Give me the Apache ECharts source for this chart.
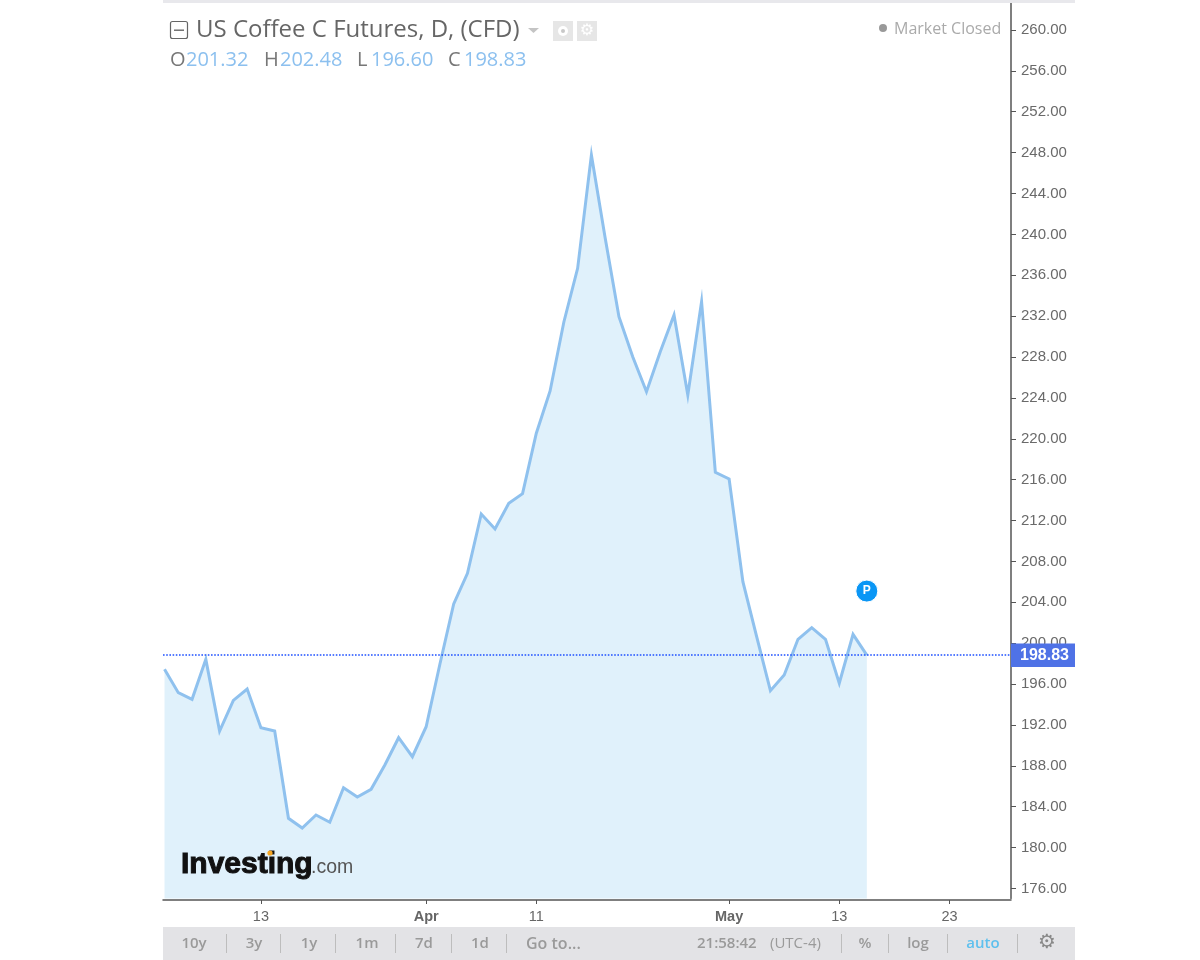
<!DOCTYPE html>
<html>
<head>
<meta charset="utf-8">
<style>html,body{margin:0;padding:0;background:#fff}#c{width:1200px;height:960px}</style>
<script src="https://cdn.jsdelivr.net/npm/echarts@6/dist/echarts.min.js"></script>
</head>
<body>
<div id="c"></div>
<script>
const closes = [197.45,195.16,194.51,198.42,191.41,194.41,195.52,191.73,191.41,182.87,
  181.92,183.19,182.48,185.86,184.95,185.70,188.08,190.75,188.89,191.83,
  197.96,203.84,206.84,212.64,211.17,213.69,214.63,220.54,224.68,231.43,
  236.68,247.77,239.65,231.95,228.03,224.61,228.52,232.11,224.29,233.42,
  216.72,216.07,206.02,200.64,195.35,196.89,200.38,201.52,200.38,196.08,
  200.87,198.83];
const priceTicks = [176,180,184,188,192,196,200,204,208,212,216,220,224,228,232,236,240,244,248,252,256,260];
const dateTickIndex = [7,19,27,41,49,57];
const dateTickLabels = ['13','Apr','11','May','13','23'];
const lastPrice = 198.83;
const markerPrice = 205.1;
const ohlc = [['O','201.32',170,186],['H','202.48',264,280],['L','196.60',357,371],['C','198.83',448,464]];
const rangeButtons = [['10y',194],['3y',254],['1y',309],['1m',367],['7d',424],['1d',480]];
const separators = [226,280,335,395,451,506,841,888,947,1017];

const seriesData = closes.map((v,i)=>[i,v]);
const UI = '"Open Sans","Noto Sans",sans-serif';
const AX = '"Liberation Sans",Arial,sans-serif';
const txt = (text,x,y,o={}) => ({type:'text',silent:true,z:o.z||20,x,y,style:{text,fill:o.fill||'#9a9a9a',
  font:`${o.weight||'normal'} ${o.size||15}px ${o.family||UI}`,textAlign:o.align||'left',textVerticalAlign:'middle',
  stroke:o.stroke||null,lineWidth:o.lw||0}});
const rect = (x,y,w,h,fill,o={}) => ({type:'rect',silent:true,z:o.z||10,shape:{x,y,width:w,height:h,r:o.r||0},
  style:{fill,stroke:o.stroke||null,lineWidth:o.lw||0}});

const graphics = [
  rect(163,0,912,3,'#e8e8ec'),
  rect(163,927,912,33,'#e3e3e6'),
  rect(170.5,21.5,17,17,'#fff',{stroke:'#666',lw:1.2,r:2,z:20}),
  rect(174,29.5,10,1.4,'#666',{z:21}),
  {type:'polygon',silent:true,z:20,shape:{points:[[528,28],[539,28],[533.5,33]]},style:{fill:'#c4c4c4'}},
  rect(553,21,20,20,'#e6e6e6',{z:20}),
  {type:'circle',silent:true,z:21,shape:{cx:563,cy:31,r:5},style:{fill:'#fff'}},
  {type:'circle',silent:true,z:22,shape:{cx:563,cy:31,r:2},style:{fill:'#c8c8c8'}},
  rect(577,21,20,20,'#e6e6e6',{z:20}),
  txt('\u2699',587,31,{size:16,family:'"DejaVu Sans"',fill:'#fff',align:'center',z:21}),
  ...ohlc.flatMap(([k,v,kx,vx])=>[txt(k,kx,60,{size:20,fill:'#777'}),txt(v,vx,60,{size:20,fill:'#8cc0ef'})]),
  {type:'circle',silent:true,z:20,shape:{cx:883,cy:28,r:4},style:{fill:'#999'}},
  txt('Market Closed',894,29,{size:16,fill:'#aaa'}),
  ...rangeButtons.map(([t,x])=>txt(t,x,944,{align:'center',weight:'600',size:15})),
  txt('Go to...',526,944,{weight:'600',size:16}),
  txt('21:58:42',697,944,{weight:'600',size:15}),
  txt('(UTC-4)',770,944,{size:15}),
  txt('%',865,944,{align:'center',weight:'600',size:15}),
  txt('log',918,944,{align:'center',weight:'600',size:15}),
  txt('auto',983,944,{align:'center',weight:'600',size:15,fill:'#5ec0ee'}),
  txt('\u2699',1047,943,{align:'center',size:20,family:'"DejaVu Sans"',fill:'#888'}),
  ...separators.map(x=>rect(x,934,1,19,'#bdbdbd',{z:11})),
  txt('Investing',181,865,{size:30,weight:'bold',family:AX,fill:'#111',stroke:'#111',lw:1}),
  txt('.com',311,868,{size:19.5,family:AX,fill:'#555'}),
  {type:'circle',silent:true,z:22,shape:{cx:270,cy:853,r:2.6},style:{fill:'#f5a623'}}
];

const chart = echarts.init(document.getElementById('c'),null,{renderer:'canvas'});
chart.setOption({
  animation:false,
  backgroundColor:'#fff',
  title:{text:'US Coffee C Futures, D, (CFD)',left:196,top:18,padding:0,
    textStyle:{fontFamily:UI,fontWeight:'normal',fontSize:24,color:'#666'}},
  grid:{left:163,top:3,width:848,height:895.5,containLabel:false},
  xAxis:{type:'value',min:-0.11,max:61.47,offset:1.5,splitLine:{show:false},
    axisLine:{show:true,onZero:false,lineStyle:{color:'#555',width:1.5}},
    axisTick:{show:true,length:4,customValues:dateTickIndex,lineStyle:{color:'#555',width:1}},
    axisLabel:{customValues:dateTickIndex,margin:9,fontFamily:AX,fontSize:14.5,color:'#666',
      formatter:(v)=>{const s=dateTickLabels[dateTickIndex.indexOf(v)];return /[A-Z]/.test(s)?`{b|${s}}`:s;},
      rich:{b:{fontFamily:AX,fontSize:14.5,fontWeight:'bold',color:'#666'}}}},
  yAxis:{type:'value',position:'right',min:175.02,max:262.64,splitLine:{show:false},
    axisLine:{show:true,onZero:false,lineStyle:{color:'#555',width:1.5}},
    axisTick:{show:true,length:5,customValues:priceTicks,lineStyle:{color:'#555',width:1}},
    axisLabel:{customValues:priceTicks,margin:10,fontFamily:AX,fontSize:15,color:'#6a6a6a',
      formatter:(v)=>v.toFixed(2)}},
  graphic:{elements:graphics},
  series:[{type:'line',data:seriesData,symbol:'none',smooth:false,
    lineStyle:{color:'#8fc1ee',width:3,join:'miter'},
    areaStyle:{color:'#e0f1fb',opacity:1,origin:'start'},
    markLine:{silent:true,symbol:'none',animation:false,precision:2,
      label:{show:true,position:'end',distance:0,formatter:lastPrice.toFixed(2),color:'#fff',
        backgroundColor:'#4f72e6',fontFamily:AX,fontSize:16,fontWeight:'bold',
        width:55,height:23.5,lineHeight:24,align:'left',padding:[0,0,0,9]},
      data:[{yAxis:lastPrice,lineStyle:{color:'#1e50ff',type:'dotted',width:1.6,opacity:1,cap:'butt'}}]},
    markPoint:{silent:true,animation:false,
      symbol:'circle',symbolSize:22,
      itemStyle:{color:'#0a96f5',borderColor:'#fff',borderWidth:1},
      label:{show:true,formatter:'P',color:'#fff',fontFamily:AX,fontWeight:'bold',fontSize:12},
      data:[{coord:[51,markerPrice]}]}
  }]
});
</script>
</body>
</html>
